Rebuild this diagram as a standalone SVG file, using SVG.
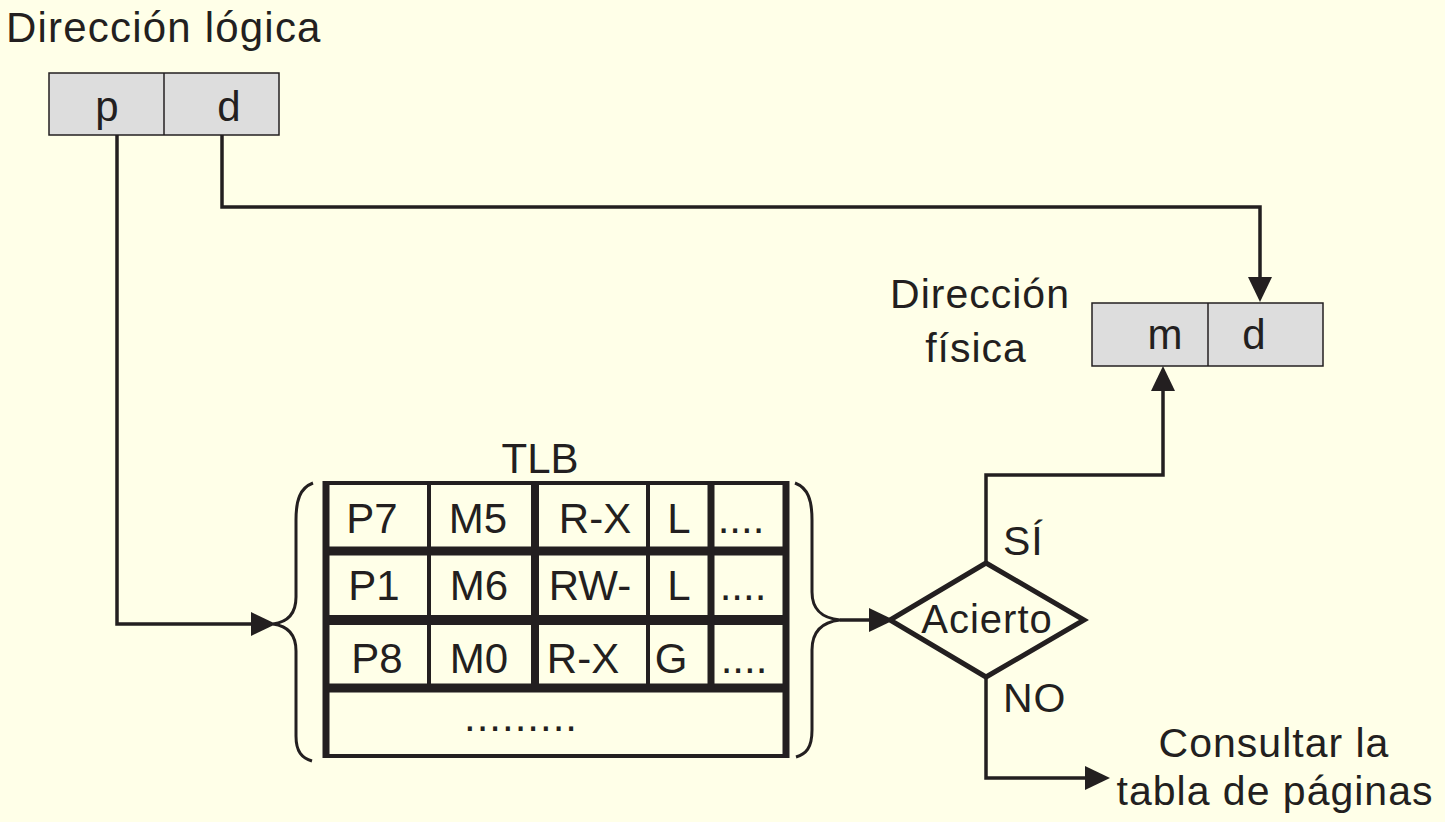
<svg xmlns="http://www.w3.org/2000/svg" width="1445" height="822" viewBox="0 0 1445 822">
<defs>
<style>
text{font-family:"Liberation Sans",Arial,sans-serif;fill:#231F20;}
.lbl{font-size:41px;letter-spacing:1px;}
.cell{font-size:42px;text-anchor:middle;}
.box{fill:#DDDDDD;stroke:#231F20;stroke-width:1.5;}
.ln{fill:none;stroke:#231F20;stroke-width:3.5;}
.brace{fill:none;stroke:#231F20;stroke-width:3;}
.tb{stroke:#231F20;}
</style>
<marker id="ah" markerUnits="userSpaceOnUse" markerWidth="26" markerHeight="26" refX="21" refY="12" orient="auto">
<path d="M0,0 L25,12 L0,24 z" fill="#231F20"/>
</marker>
</defs>
<rect width="1445" height="822" fill="#FFFFE8"/>

<g id="logical-address">
<text x="6" y="42" font-size="42" letter-spacing="1.2">Dirección lógica</text>
<rect class="box" x="49" y="73" width="230" height="62"/>
<line x1="164" y1="73" x2="164" y2="135" stroke="#231F20" stroke-width="1.5"/>
<text class="cell" x="107" y="121">p</text>
<text class="cell" x="229" y="121">d</text>
</g>

<g id="physical-address">
<text class="lbl" x="980" y="308" text-anchor="middle">Dirección</text>
<text class="lbl" x="976" y="362" text-anchor="middle">física</text>
<rect class="box" x="1092" y="303" width="231" height="63"/>
<line x1="1208" y1="303" x2="1208" y2="366" stroke="#231F20" stroke-width="1.5"/>
<text class="cell" x="1165" y="349">m</text>
<text class="cell" x="1254" y="349">d</text>
</g>

<g id="tlb">
<text class="cell" x="540" y="473" font-size="40">TLB</text>
<line class="tb" x1="324" y1="483" x2="788" y2="483" stroke-width="4"/>
<line class="tb" x1="324" y1="756" x2="788" y2="756" stroke-width="4"/>
<line class="tb" x1="326" y1="481" x2="326" y2="758" stroke-width="7"/>
<line class="tb" x1="786" y1="481" x2="786" y2="758" stroke-width="7"/>
<line class="tb" x1="326" y1="551" x2="786" y2="551" stroke-width="9"/>
<line class="tb" x1="326" y1="620" x2="786" y2="620" stroke-width="10"/>
<line class="tb" x1="326" y1="688" x2="786" y2="688" stroke-width="9"/>
<line class="tb" x1="429" y1="483" x2="429" y2="688" stroke-width="4"/>
<line class="tb" x1="535" y1="483" x2="535" y2="688" stroke-width="8"/>
<line class="tb" x1="648" y1="483" x2="648" y2="688" stroke-width="4"/>
<line class="tb" x1="711" y1="483" x2="711" y2="688" stroke-width="7"/>
<text class="cell" x="372" y="533">P7</text>
<text class="cell" x="478" y="533">M5</text>
<text class="cell" x="595" y="533">R-X</text>
<text class="cell" x="679" y="533">L</text>
<text class="cell" x="741" y="533">....</text>
<text class="cell" x="374" y="600">P1</text>
<text class="cell" x="479" y="600">M6</text>
<text class="cell" x="590" y="600">RW-</text>
<text class="cell" x="679" y="600">L</text>
<text class="cell" x="743" y="600">....</text>
<text class="cell" x="377" y="673">P8</text>
<text class="cell" x="479" y="673">M0</text>
<text class="cell" x="583" y="673">R-X</text>
<text class="cell" x="671" y="673">G</text>
<text class="cell" x="744" y="673">....</text>
<text class="cell" x="521" y="731" letter-spacing="1">.........</text>
<path class="brace" d="M313,483 C300,488 296,500 296,520 L296,597 C296,614 288,622 273,624 C288,626 296,634 296,651 L296,736 C296,752 302,758 312,761"/>
<path class="brace" d="M795,483 C808,488 812,500 812,520 L812,592 C812,610 822,618 840,620 C822,622 812,632 812,650 L812,730 C812,748 806,754 796,757"/>
</g>

<g id="decision">
<polygon points="986,563 1084,620 986,677 890,620" fill="none" stroke="#231F20" stroke-width="5" stroke-linejoin="miter"/>
<text x="987" y="633" font-size="40" text-anchor="middle" letter-spacing="1">Acierto</text>
<text class="lbl" x="1003" y="555">SÍ</text>
<text class="lbl" x="1003" y="712">NO</text>
</g>

<g id="page-table">
<text class="lbl" x="1274" y="757" text-anchor="middle">Consultar la</text>
<text class="lbl" x="1275" y="805" text-anchor="middle">tabla de páginas</text>
</g>

<g id="connectors">
<path class="ln" d="M117,135 V624 H272" marker-end="url(#ah)"/>
<path class="ln" d="M222,135 V207 H1260 V298" marker-end="url(#ah)"/>
<path class="ln" d="M840,620 H890" marker-end="url(#ah)"/>
<path class="ln" d="M986,563 V475 H1163 V370" marker-end="url(#ah)"/>
<path class="ln" d="M986,677 V778 H1106" marker-end="url(#ah)"/>
</g>
</svg>
